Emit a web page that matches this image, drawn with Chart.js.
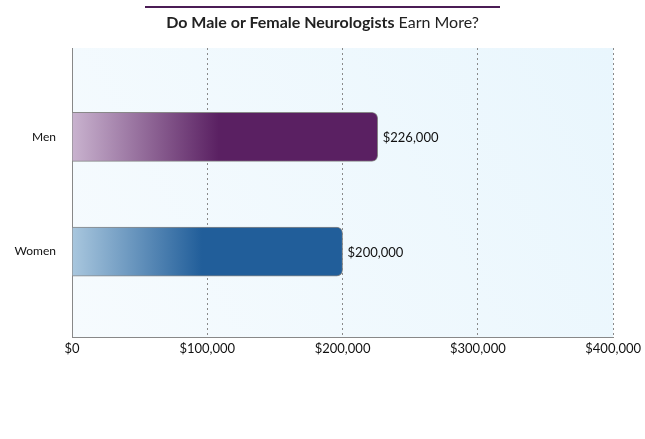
<!DOCTYPE html>
<html><head><meta charset="utf-8">
<script src="https://cdn.jsdelivr.net/npm/chart.js@4"></script>
<style>
body{margin:0;background:#fff;font-family:Lato,"Open Sans",sans-serif;}
#wrap{position:relative;width:645px;height:439px;}
#title{position:absolute;left:145px;width:355px;top:6px;border-top:2px solid #4b1d55;text-align:center;font-size:16px;color:#222;padding-top:4px;}
</style></head><body>
<div id="wrap">
<div id="title"><b>Do Male or Female Neurologists</b> Earn More?</div>
<canvas id="c" width="645" height="439"></canvas>
</div>
<script>
const categories = ["Men", "Women"];
const salaries = [226000, 200000];
const xTicks = [0, 100000, 200000, 300000, 400000];
const lightColors = ["#c9b3cf", "#a9c7de"];
const darkColors = ["#5a2062", "#215e9a"];

function money(v){ return "$" + v.toLocaleString("en-US"); }

const bgPlugin = {
  id: "bg",
  beforeDraw(chart){
    const a = chart.chartArea, ctx = chart.ctx;
    const g = ctx.createLinearGradient(a.left, a.bottom, a.right, a.top);
    g.addColorStop(0, "#f6fbfe"); g.addColorStop(1, "#e9f6fd");
    ctx.fillStyle = g; ctx.fillRect(a.left, a.top, a.right - a.left, a.bottom - a.top);
  }
};
const labelPlugin = {
  id: "labels",
  afterDatasetsDraw(chart){
    const ctx = chart.ctx;
    chart.getDatasetMeta(0).data.forEach((bar, i) => {
      ctx.fillStyle = "#111"; ctx.font = "13px Lato"; ctx.textBaseline = "middle";
      ctx.fillText(money(salaries[i]), bar.x + 5, bar.y + 1);
    });
  }
};

new Chart(document.getElementById("c"), {
  type: "bar",
  data: { datasets: [{
    data: salaries.map((v, i) => ({ x: v, y: i })),
    backgroundColor(ctx){
      const c = ctx.chart, a = c.chartArea;
      if (!a) return darkColors[ctx.dataIndex];
      const end = c.scales.x.getPixelForValue(salaries[ctx.dataIndex]);
      const g = c.ctx.createLinearGradient(a.left, 0, end, 0);
      g.addColorStop(0, lightColors[ctx.dataIndex]);
      g.addColorStop(0.48, darkColors[ctx.dataIndex]);
      g.addColorStop(1, darkColors[ctx.dataIndex]);
      return g;
    },
    borderColor: "#888", borderWidth: 1, borderSkipped: "left",
    borderRadius: 6, barThickness: 49
  }]},
  options: {
    indexAxis: "y", responsive: false, animation: false,
    layout: { padding: { top: 48, right: 30, bottom: 78 } },
    plugins: { legend: { display: false }, tooltip: { enabled: false } },
    scales: {
      x: { type: "linear", min: 0, max: 400000, afterBuildTicks(s){ s.ticks = xTicks.map(v => ({value: v})); },
        grid: { color: "#8a8a8a", drawTicks: false },
        border: { color: "#888", dash: [2, 3] },
        ticks: { color: "#111", font: { size: 13, family: "Lato" }, padding: 4, callback: v => money(v) } },
      y: { type: "linear", reverse: true, min: -0.774, max: 1.748, offset: false,
        afterFit(s){ s.width = 72; },
        afterBuildTicks(s){ s.ticks = categories.map((c, i) => ({ value: i })); },
        grid: { display: false },
        border: { color: "#888" },
        ticks: { color: "#111", font: { size: 12, family: "Lato" }, padding: 8, callback: v => categories[v] } }
    }
  },
  plugins: [bgPlugin, labelPlugin]
});
</script>
</body></html>
